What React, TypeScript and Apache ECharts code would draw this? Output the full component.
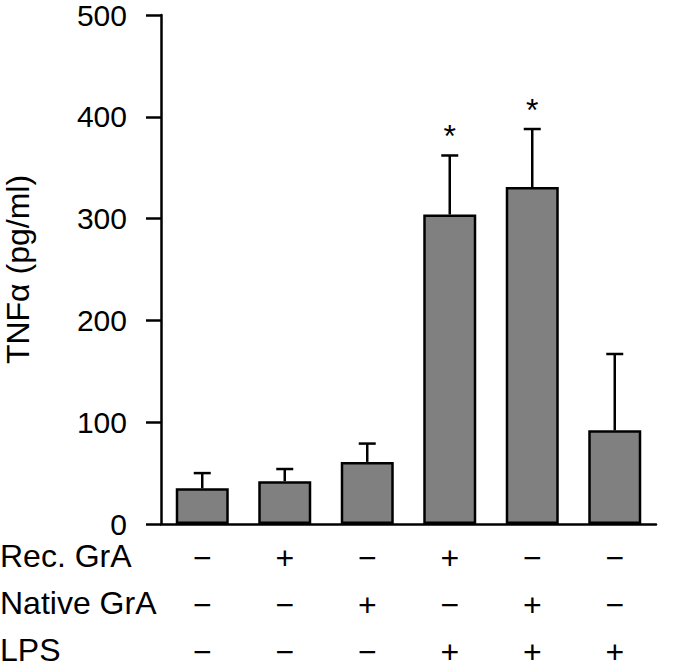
import React, { useEffect, useRef } from "react";
import * as echarts from "echarts";

const categories = ["Control", "Rec. GrA", "Native GrA", "Rec. GrA + LPS", "Native GrA + LPS", "LPS"];
const recGrA = ["−", "+", "−", "+", "−", "−"];
const nativeGrA = ["−", "−", "+", "−", "+", "−"];
const lps = ["−", "−", "−", "+", "+", "+"];
const rowNames = ["Rec. GrA", "Native GrA", "LPS"];
const tnfValues = [35, 42, 61, 304, 331, 92];
const tnfSd = [15, 12, 18, 58, 57, 75];
const significant = [false, false, false, true, true, false];
const yTicks = [0, 100, 200, 300, 400, 500];

const FONT = "Liberation Sans, Arial, Helvetica, sans-serif";
const FS = 32;

export default function App() {
  const ref = useRef<HTMLDivElement>(null);
  useEffect(() => {
    if (!ref.current) return;
    const chart = echarts.init(ref.current, null, { renderer: "svg" });
    const errData = tnfValues.map((v, i) => [i, v, v + tnfSd[i], significant[i] ? 1 : 0]);
    const rowY = [558, 605, 652];
    chart.setOption({
      animation: false,
      backgroundColor: "#ffffff",
      grid: {
        left: 161,
        right: 19,
        top: 15,
        bottom: 146,
        containLabel: false,
        outerBoundsMode: "none",
      },
      xAxis: {
        type: "category",
        data: categories,
        axisLine: { show: true, lineStyle: { color: "#000", width: 2.5 } },
        axisTick: { show: false },
        axisLabel: {
          margin: 10,
          fontSize: FS,
          lineHeight: 47,
          color: "#000",
          fontFamily: FONT,
          formatter: (_: string, i: number) => [recGrA[i], nativeGrA[i], lps[i]].join("\n"),
        },
        splitLine: { show: false },
      },
      yAxis: {
        type: "value",
        min: yTicks[0],
        max: yTicks[yTicks.length - 1],
        interval: 100,
        name: "TNFα (pg/ml)",
        nameLocation: "middle",
        nameRotate: 90,
        nameGap: 127,
        nameTextStyle: { fontSize: FS, color: "#000", fontFamily: FONT },
        axisLine: { show: true, lineStyle: { color: "#000", width: 2.5 } },
        axisTick: { show: true, inside: false, length: 15, lineStyle: { color: "#000", width: 2.5 } },
        axisLabel: { margin: 34, fontSize: 30, lineHeight: 26, color: "#000", fontFamily: FONT },
        splitLine: { show: false },
      },
      series: [
        {
          type: "bar",
          data: tnfValues,
          barWidth: 53,
          itemStyle: { color: "#808080", borderColor: "#000", borderWidth: 2.5 },
          z: 2,
        },
        {
          type: "custom",
          z: 3,
          data: errData,
          encode: { x: 0, y: [1, 2] },
          renderItem: (params: any, api: any) => {
            const i = api.value(0);
            const base = api.coord([i, api.value(1)]);
            const top = api.coord([i, api.value(2)]);
            const half = 8.5;
            const children: any[] = [
              {
                type: "line",
                shape: { x1: base[0], y1: base[1], x2: top[0], y2: top[1] },
                style: { stroke: "#000", lineWidth: 2.5 },
              },
              {
                type: "line",
                shape: { x1: top[0] - half, y1: top[1], x2: top[0] + half, y2: top[1] },
                style: { stroke: "#000", lineWidth: 2.5 },
              },
            ];
            if (api.value(3)) {
              children.push({
                type: "text",
                x: top[0],
                y: top[1] - 19,
                style: {
                  text: "*",
                  fontSize: FS,
                  fontFamily: FONT,
                  fill: "#000",
                  align: "center",
                  verticalAlign: "middle",
                },
              });
            }
            return { type: "group", children };
          },
        },
      ],
      graphic: rowNames.map((n, k) => ({
        type: "text",
        left: 0,
        top: rowY[k] - 18,
        style: { text: n, fontSize: FS, fontFamily: FONT, fill: "#000" },
      })),
    });
    return () => chart.dispose();
  }, []);
  return (
    <div
      ref={ref}
      style={{ position: "fixed", left: 0, top: 0, width: 675, height: 670, background: "#fff" }}
    />
  );
}
